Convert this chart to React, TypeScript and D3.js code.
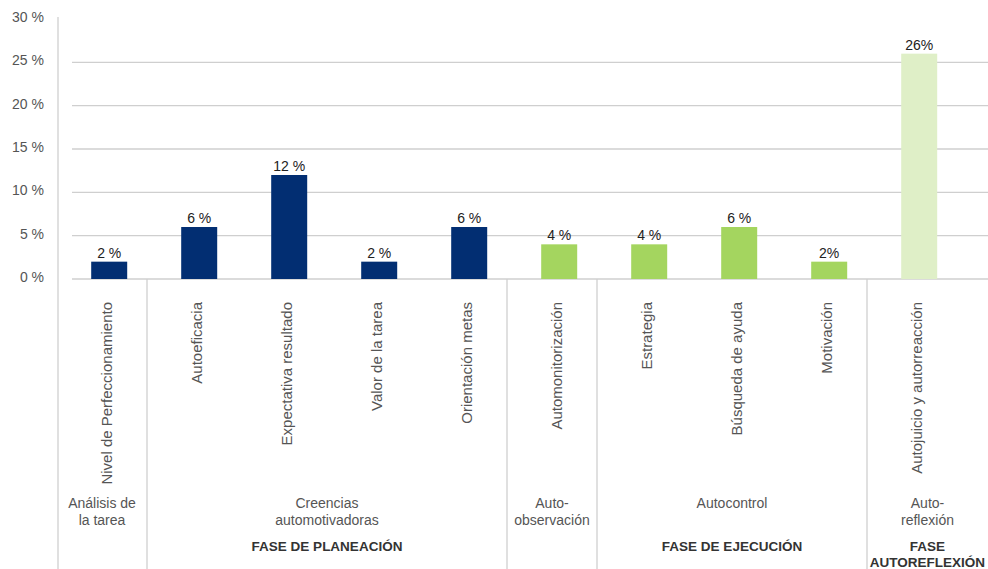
import React from "react";
import * as d3 from "d3";

const categories = [
  "Nivel de Perfeccionamiento",
  "Autoeficacia",
  "Expectativa resultado",
  "Valor de la tarea",
  "Orientación metas",
  "Automonitorización",
  "Estrategia",
  "Búsqueda de ayuda",
  "Motivación",
  "Autojuicio y autorreacción",
];
const values = [2, 6, 12, 2, 6, 4, 4, 6, 2, 26];
const valueLabels = ["2 %", "6 %", "12 %", "2 %", "6 %", "4 %", "4 %", "6 %", "2%", "26%"];
const phase = ["plan", "plan", "plan", "plan", "plan", "ejec", "ejec", "ejec", "ejec", "refl"];
const yTicks = [0, 5, 10, 15, 20, 25, 30];
const yTickLabels = ["0 %", "5 %", "10 %", "15 %", "20 %", "25 %", "30 %"];
// level-2 groups: [first index, last index, lines]
const subGroups: [number, number, string[]][] = [
  [0, 0, ["Análisis de", "la tarea"]],
  [1, 4, ["Creencias", "automotivadoras"]],
  [5, 5, ["Auto-", "observación"]],
  [6, 8, ["Autocontrol"]],
  [9, 9, ["Auto-", "reflexión"]],
];
// level-3 groups
const phaseGroups: [number, number, string[]][] = [
  [1, 4, ["FASE DE PLANEACIÓN"]],
  [6, 8, ["FASE DE EJECUCIÓN"]],
  [9, 9, ["FASE", "AUTOREFLEXIÓN"]],
];

const colors: Record<string, string> = {
  plan: "#022e72",
  ejec: "#a4d55f",
  refl: "#dfefc7",
};

const W = 988;
const H = 569;
const FONT = "'Liberation Sans', Arial, Helvetica, sans-serif";

export default function App() {
  const x = d3.scaleBand<string>().domain(categories).range([57, 957]).paddingInner(0).paddingOuter(0);
  const step = x.step();
  const barW = 36;
  const barCenter = (c: string) => (x(c) as number) + step * 0.58;
  const y = d3.scaleLinear().domain([0, 30]).range([279, 19]);
  const gridX0 = 72;
  const baseY = y(0);
  const lineColor = "#cfcfcf";
  const catEdge = (i: number) => x(categories[i]) as number;
  const catEnd = (i: number) => (i === categories.length - 1 ? W : (x(categories[i]) as number) + step);
  const separators = [1, 5, 6, 9].map(catEdge);

  return (
    <div style={{ position: "absolute", left: 0, top: 0 }}>
      <svg width={W} height={H} style={{ display: "block", background: "#fff" }} fontFamily={FONT}>
        {/* gridlines */}
        {yTicks.filter((t) => t > 0 && t < 30).map((t) => (
          <line key={t} x1={gridX0} x2={W} y1={y(t)} y2={y(t)} stroke={lineColor} strokeWidth={1.3} />
        ))}
        {/* baseline */}
        <line x1={gridX0} x2={W} y1={baseY} y2={baseY} stroke={lineColor} strokeWidth={1.3} />
        {/* vertical axis line */}
        <line x1={58} x2={58} y1={17} y2={H} stroke={lineColor} strokeWidth={1.3} />
        {/* separators */}
        {separators.map((sx, i) => (
          <line key={i} x1={sx} x2={sx} y1={baseY} y2={H} stroke={lineColor} strokeWidth={1.3} />
        ))}
        {/* tick labels */}
        {yTicks.map((t, i) => (
          <text key={t} x={44} y={y(t) - 2} textAnchor="end" dominantBaseline="central" fontSize={14} fill="#555">
            {yTickLabels[i]}
          </text>
        ))}
        {/* bars */}
        {categories.map((c, i) => (
          <rect
            key={c}
            x={barCenter(c) - barW / 2}
            y={y(values[i])}
            width={barW}
            height={baseY - y(values[i])}
            fill={colors[phase[i]]}
          />
        ))}
        {/* value labels */}
        {categories.map((c, i) => (
          <text key={c} x={barCenter(c)} y={y(values[i]) - 4} textAnchor="middle" fontSize={14} fill="#222">
            {valueLabels[i]}
          </text>
        ))}
        {/* rotated category labels */}
        {categories.map((c) => (
          <text
            key={c}
            transform={`translate(${barCenter(c) - 3},302) rotate(-90)`}
            textAnchor="end"
            dominantBaseline="central"
            fontSize={15}
            fill="#555"
          >
            {c}
          </text>
        ))}
        {/* level-2 group labels */}
        {subGroups.map(([a, b, lines], gi) => {
          const cx = (catEdge(a) + catEnd(b)) / 2;
          return (
            <text key={gi} x={cx} y={508} textAnchor="middle" fontSize={14} fill="#555">
              {lines.map((l, li) => (
                <tspan key={li} x={cx} dy={li === 0 ? 0 : 17}>
                  {l}
                </tspan>
              ))}
            </text>
          );
        })}
        {/* level-3 phase labels */}
        {phaseGroups.map(([a, b, lines], gi) => {
          const cx = (catEdge(a) + catEnd(b)) / 2;
          return (
            <text key={gi} x={cx} y={551} textAnchor="middle" fontSize={13.5} fontWeight="bold" fill="#333">
              {lines.map((l, li) => (
                <tspan key={li} x={cx} dy={li === 0 ? 0 : 16}>
                  {l}
                </tspan>
              ))}
            </text>
          );
        })}
      </svg>
    </div>
  );
}
